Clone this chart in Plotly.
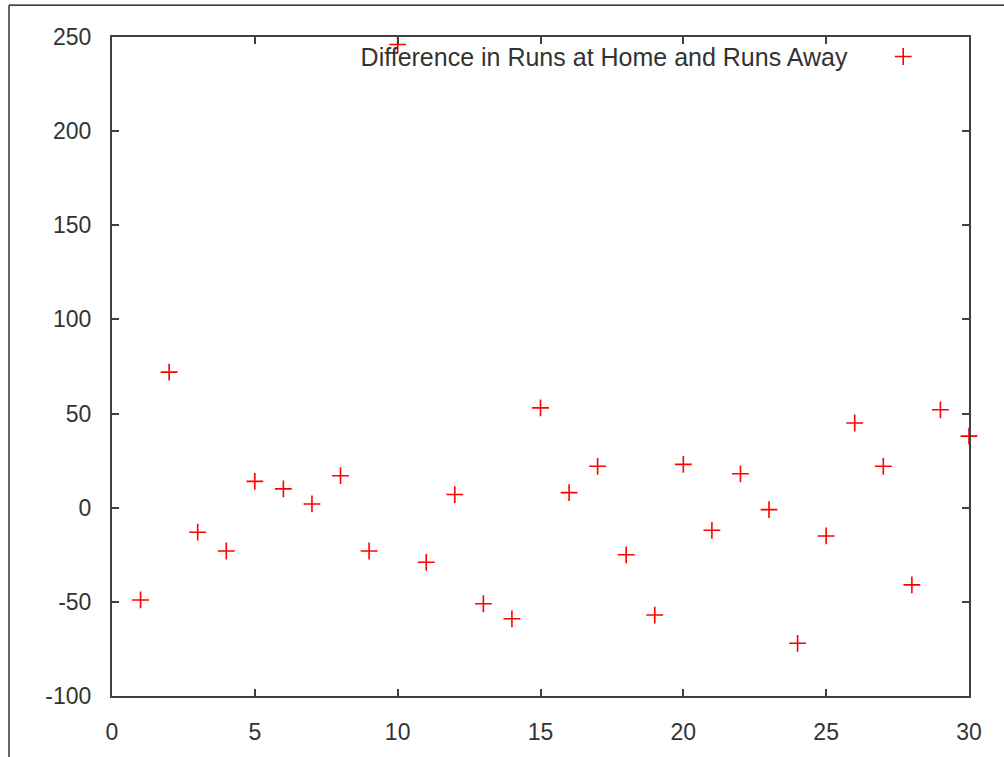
import plotly.graph_objects as go

games = list(range(1, 31))
run_diff = [-49, 72, -13, -23, 14, 10, 2, 17, -23, 246,
            -29, 7, -51, -59, 53, 8, 22, -25, -57, 23,
            -12, 18, -1, -72, -15, 45, 22, -41, 52, 38]
series_name = "Difference in Runs at Home and Runs Away"
x_ticks = [0, 5, 10, 15, 20, 25, 30]
y_ticks = [-100, -50, 0, 50, 100, 150, 200, 250]
y_tick_text = ["-100", "-50", "0", "50", "100", "150", "200", "250"]

FONT = "Liberation Sans, Arial, sans-serif"
AXC = "#404040"
TXT = "#333333"

fig = go.Figure()
fig.add_trace(go.Scatter(
    x=games, y=run_diff, mode="markers", name=" ",
    marker=dict(symbol="cross-thin", size=12, color="red",
                line=dict(color="red", width=1.6)),
    cliponaxis=False, showlegend=True,
))

axis_common = dict(
    showgrid=False, zeroline=False, showline=True, linecolor=AXC, linewidth=2,
    mirror="ticks", ticks="inside", ticklen=7, tickwidth=1.5, tickcolor=AXC,
    tickfont=dict(family=FONT, size=23, color=TXT),
    ticklabelstandoff=14,
)
fig.update_xaxes(range=[0, 30], tickvals=x_ticks, **axis_common)
fig.update_yaxes(range=[-100, 250], tickvals=y_ticks, ticktext=y_tick_text,
                 **axis_common)

fig.update_layout(
    width=1004, height=757,
    margin=dict(l=112, r=35, t=37, b=57),
    paper_bgcolor="white", plot_bgcolor="white",
    showlegend=True,
    legend=dict(
        title=dict(text=series_name + "\u00a0" * 4, side="left",
                   font=dict(family=FONT, size=25, color=TXT)),
        font=dict(family=FONT, size=25, color=TXT),
        x=0.961, xanchor="right", y=0.97, yanchor="middle",
        bgcolor="rgba(0,0,0,0)", borderwidth=0,
    ),
    shapes=[
        dict(type="line", xref="paper", yref="paper",
             x0=-0.1202, x1=1.05, y0=1.0483, y1=1.0483,
             line=dict(color="black", width=1.2)),
        dict(type="line", xref="paper", yref="paper",
             x0=-0.1202, x1=-0.1202, y0=-0.1, y1=1.0483,
             line=dict(color="black", width=1.2)),
    ],
)

fig.write_html("out.html")
